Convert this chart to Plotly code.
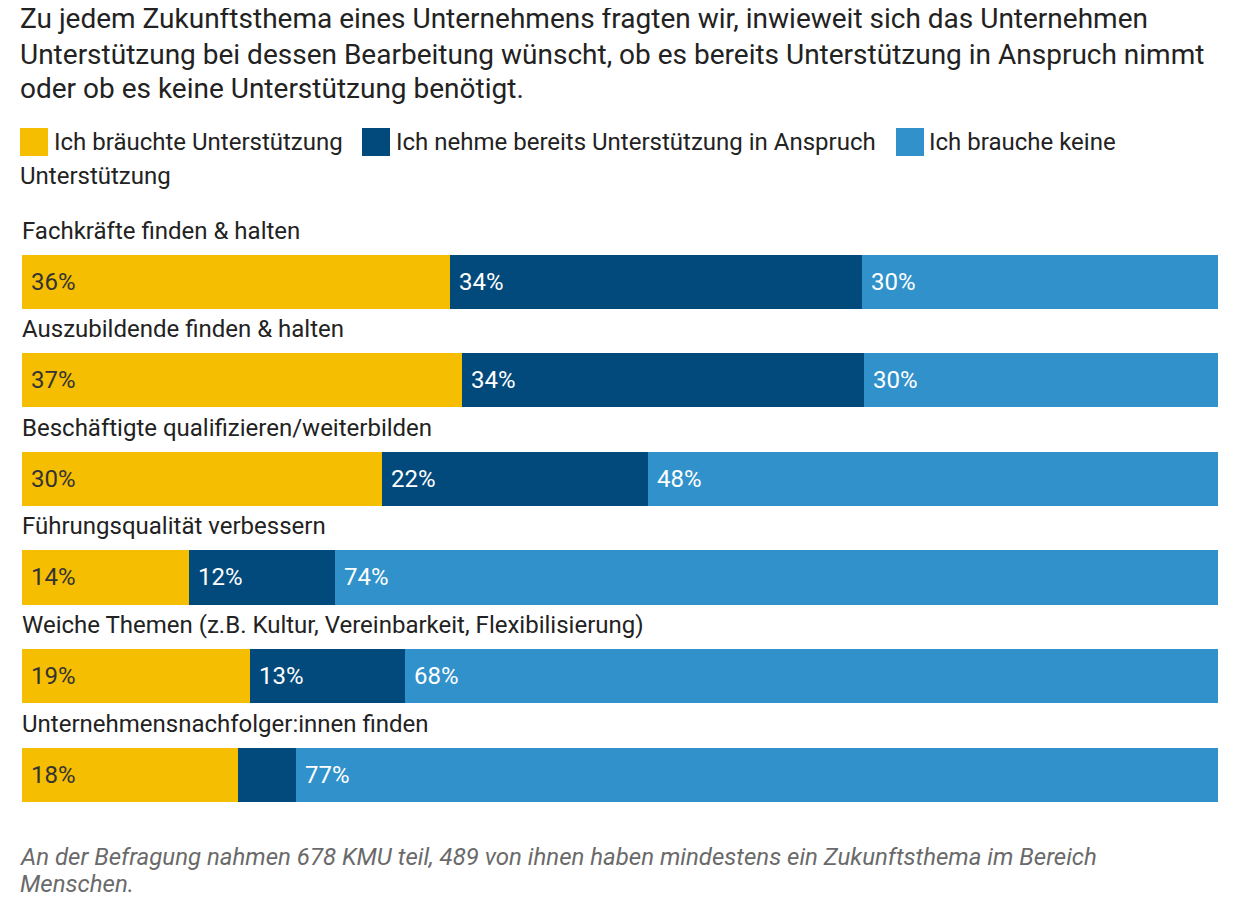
import plotly.graph_objects as go

# Daten (Anteile in %)
topics = [
    "Fachkräfte finden & halten",
    "Auszubildende finden & halten",
    "Beschäftigte qualifizieren/weiterbilden",
    "Führungsqualität verbessern",
    "Weiche Themen (z.B. Kultur, Vereinbarkeit, Flexibilisierung)",
    "Unternehmensnachfolger:innen finden",
]
need_help = [35.8, 36.8, 30.1, 14.0, 19.1, 18.1]
using_help = [34.4, 33.6, 22.2, 12.2, 12.9, 4.8]
no_help = [29.8, 29.6, 47.7, 73.8, 68.0, 77.1]

series_names = [
    "Ich bräuchte Unterstützung",
    "Ich nehme bereits Unterstützung in Anspruch",
    "Ich brauche keine Unterstützung",
]
title_lines = [
    "Zu jedem Zukunftsthema eines Unternehmens fragten wir, inwieweit sich das Unternehmen",
    "Unterstützung bei dessen Bearbeitung wünscht, ob es bereits Unterstützung in Anspruch nimmt",
    "oder ob es keine Unterstützung benötigt.",
]
note_lines = [
    "An der Befragung nahmen 678 KMU teil, 489 von ihnen haben mindestens ein Zukunftsthema im Bereich",
    "Menschen.",
]

colors = ["#f6be00", "#034a7c", "#3192cb"]
text_colors = ["#333333", "#ffffff", "#ffffff"]
FONT = "Roboto"

OFF = 8  # body margin of the html page
W, H = 1240 - OFF, 901 - OFF
M = dict(l=22 - OFF, r=22, t=175, b=77)


def py(p):
    # page pixel (von oben) -> paper y
    return (H - M["b"] - (p - OFF)) / (H - M["t"] - M["b"])


def px(p):
    return (p - OFF - M["l"]) / (W - M["l"] - M["r"])


series = [need_help, using_help, no_help]
rows = list(range(len(topics)))

fig = go.Figure()
for name, vals, col in zip(series_names, series, colors):
    fig.add_trace(go.Bar(
        y=rows, x=vals, name=name, orientation="h",
        marker=dict(color=col, line=dict(width=0)),
        width=0.55, showlegend=False,
        hovertemplate="%{x:.0f}%<extra>" + name + "</extra>",
    ))

annotations = []
# Themen-Beschriftung über jedem Balken
for i, t in enumerate(topics):
    annotations.append(dict(
        x=0, y=i, xref="x", yref="y", text=t, showarrow=False,
        xanchor="left", yanchor="middle", yshift=51, xshift=-2,
        font=dict(family=FONT, size=24, color="#222222"),
    ))

# Prozentwerte in den Balken
for i in rows:
    start = 0
    for k, vals in enumerate(series):
        v = vals[i]
        if v >= 8:
            annotations.append(dict(
                x=start, y=i, xref="x", yref="y", text=f"{round(v)}%",
                showarrow=False, xanchor="left", yanchor="middle", xshift=7,
                font=dict(family=FONT, size=24, color=text_colors[k]),
            ))
        start += v

# Titel
for j, line in enumerate(title_lines):
    annotations.append(dict(
        x=px(18), y=py(19 + 35 * j), xref="paper", yref="paper", text=line,
        showarrow=False, xanchor="left", yanchor="middle",
        font=dict(family=FONT, size=28, color="#222222"),
    ))

# Legende (umbrochen wie im Original)
legend_items = [
    (series_names[0], 20, 52, 142),
    (series_names[1], 362, 394, 142),
    ("Ich brauche keine", 896, 927, 142),
]
shapes = []
for (txt, sx, tx, cy), col in zip(legend_items, colors):
    shapes.append(dict(
        type="rect", xref="paper", yref="paper",
        x0=px(sx), x1=px(sx + 28), y0=py(cy + 14), y1=py(cy - 14),
        fillcolor=col, line=dict(width=0),
    ))
    annotations.append(dict(
        x=px(tx), y=py(cy), xref="paper", yref="paper", text=txt,
        showarrow=False, xanchor="left", yanchor="middle",
        font=dict(family=FONT, size=24, color="#222222"),
    ))
annotations.append(dict(
    x=px(18), y=py(176), xref="paper", yref="paper", text="Unterstützung",
    showarrow=False, xanchor="left", yanchor="middle",
    font=dict(family=FONT, size=24, color="#222222"),
))

# Fußnote
for j, line in enumerate(note_lines):
    annotations.append(dict(
        x=px(18), y=py(857 + 27 * j), xref="paper", yref="paper",
        text="<i>" + line + "</i>",
        showarrow=False, xanchor="left", yanchor="middle",
        font=dict(family=FONT, size=24, color="#6a6a6a"),
    ))

fig.update_layout(
    width=W, height=H, margin=M,
    barmode="stack", bargap=0,
    plot_bgcolor="white", paper_bgcolor="white",
    xaxis=dict(range=[0, 100], visible=False, fixedrange=True),
    yaxis=dict(range=[5.5, -1.0], visible=False, fixedrange=True),
    annotations=annotations, shapes=shapes,
    font=dict(family=FONT),
)
fig.write_html("out.html")
